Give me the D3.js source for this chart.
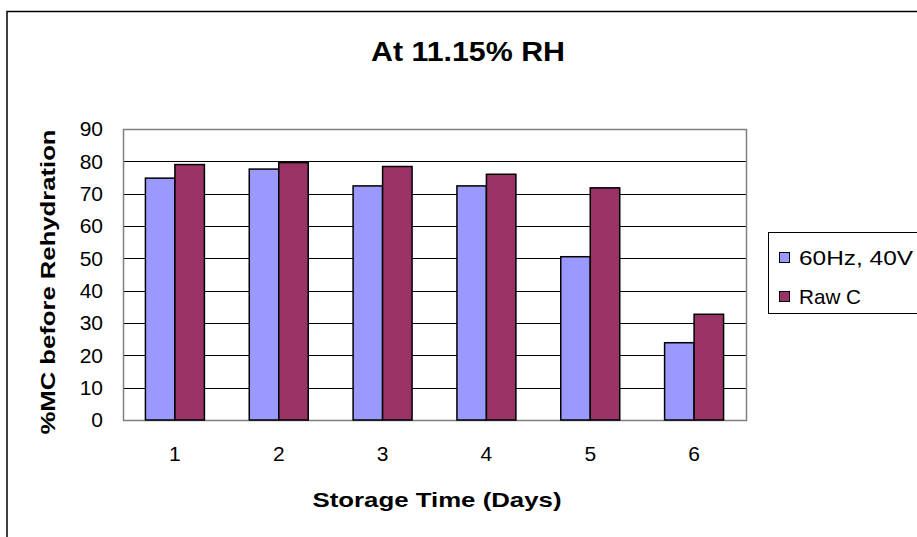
<!DOCTYPE html>
<html>
<head>
<meta charset="utf-8">
<script src="https://cdn.jsdelivr.net/npm/d3@7/dist/d3.min.js"></script>
<style>
  html, body { margin: 0; padding: 0; background: #fff; }
  svg { display: block; font-family: "Liberation Sans", Arial, sans-serif; }
</style>
</head>
<body>
<svg id="chart" width="917" height="537"></svg>
<script>
// Storage days and moisture content before rehydration
const days = ["1", "2", "3", "4", "5", "6"];
const seriesNames = ["60Hz, 40V", "Raw C"];
const hz60 = [74.8, 77.6, 72.4, 72.4, 50.5, 23.9];
const rawC = [79.0, 79.6, 78.4, 76.0, 71.8, 32.7];
const yTicks = [0, 10, 20, 30, 40, 50, 60, 70, 80, 90];
const colors = ["#9999FF", "#993366"];

const svg = d3.select("#chart");
const W = 917, H = 537;
const plot = { left: 123, right: 746, top: 129, bottom: 420 };

// outer chart frame (top and left edges visible)
svg.append("path")
  .attr("d", `M7,${H} V11.5 H${W}`)
  .attr("fill", "none").attr("stroke", "#000").attr("stroke-width", 1.5);

// title
svg.append("text")
  .attr("x", 468).attr("y", 61)
  .attr("text-anchor", "middle")
  .attr("font-size", 27).attr("font-weight", "bold")
  .attr("textLength", 194).attr("lengthAdjust", "spacingAndGlyphs")
  .text("At 11.15% RH");

const x0 = d3.scaleBand().domain(days)
  .range([plot.left, plot.right])
  .paddingInner(0.432).paddingOuter(0.216);
const x1 = d3.scaleBand().domain(seriesNames).range([0, x0.bandwidth()]);
const y = d3.scaleLinear().domain([0, 90]).range([plot.bottom, plot.top]);

// gridlines
svg.append("g")
  .selectAll("line")
  .data(yTicks.filter(t => t > 0 && t < 90))
  .join("line")
  .attr("x1", plot.left).attr("x2", plot.right)
  .attr("y1", d => Math.round(y(d)) + 0.5).attr("y2", d => Math.round(y(d)) + 0.5)
  .attr("stroke", "#000").attr("stroke-width", 1);

// plot area border
svg.append("rect")
  .attr("x", plot.left + 0.5).attr("y", plot.top + 0.5)
  .attr("width", plot.right - plot.left).attr("height", plot.bottom - plot.top)
  .attr("fill", "none").attr("stroke", "#808080").attr("stroke-width", 1.5);

// bars
const rows = days.map((d, i) => ({ day: d, values: [hz60[i], rawC[i]] }));
const groups = svg.append("g").selectAll("g")
  .data(rows).join("g")
  .attr("transform", d => `translate(${x0(d.day)},0)`);
groups.selectAll("rect")
  .data(d => d.values.map((v, k) => ({ name: seriesNames[k], v, k })))
  .join("rect")
  .attr("x", d => x1(d.name))
  .attr("y", d => y(d.v))
  .attr("width", x1.bandwidth())
  .attr("height", d => y(0) - y(d.v))
  .attr("fill", d => colors[d.k])
  .attr("stroke", "#000").attr("stroke-width", 1.5);

// y axis labels
const yAxis = d3.axisLeft(y).tickValues(yTicks).tickSize(0).tickPadding(20);
const gy = svg.append("g").attr("transform", `translate(${plot.left},0)`).call(yAxis);
gy.select(".domain").remove();
gy.selectAll("text").attr("font-size", 21).attr("font-family", "Liberation Sans, Arial, sans-serif").attr("fill", "#000");

// x axis labels
const xAxis = d3.axisBottom(x0).tickSize(0).tickPadding(26);
const gx = svg.append("g").attr("transform", `translate(0,${plot.bottom})`).call(xAxis);
gx.select(".domain").remove();
gx.selectAll("text").attr("font-size", 21).attr("font-family", "Liberation Sans, Arial, sans-serif").attr("fill", "#000");

// axis titles
svg.append("text")
  .attr("x", 437).attr("y", 507)
  .attr("text-anchor", "middle")
  .attr("font-size", 21).attr("font-weight", "bold")
  .attr("textLength", 249).attr("lengthAdjust", "spacingAndGlyphs")
  .text("Storage Time (Days)");

svg.append("text")
  .attr("transform", "translate(55,282) rotate(-90)")
  .attr("text-anchor", "middle")
  .attr("font-size", 21).attr("font-weight", "bold")
  .attr("textLength", 305).attr("lengthAdjust", "spacingAndGlyphs")
  .text("%MC before Rehydration");

// legend
const legend = svg.append("g");
legend.append("rect")
  .attr("x", 768.5).attr("y", 232.5).attr("width", 160).attr("height", 81)
  .attr("fill", "#fff").attr("stroke", "#000").attr("stroke-width", 1);
const items = legend.selectAll("g.item")
  .data(seriesNames).join("g").attr("class", "item")
  .attr("transform", (d, i) => `translate(779,${252 + i * 39})`);
items.append("rect")
  .attr("x", 0.5).attr("y", 0.5).attr("width", 10).attr("height", 10)
  .attr("fill", (d, i) => colors[i]).attr("stroke", "#000").attr("stroke-width", 1);
items.append("text")
  .attr("x", 20).attr("y", 13)
  .attr("font-size", 21)
  .attr("textLength", (d, i) => i === 0 ? 114 : 62)
  .attr("lengthAdjust", "spacingAndGlyphs")
  .text(d => d);
</script>
</body>
</html>
